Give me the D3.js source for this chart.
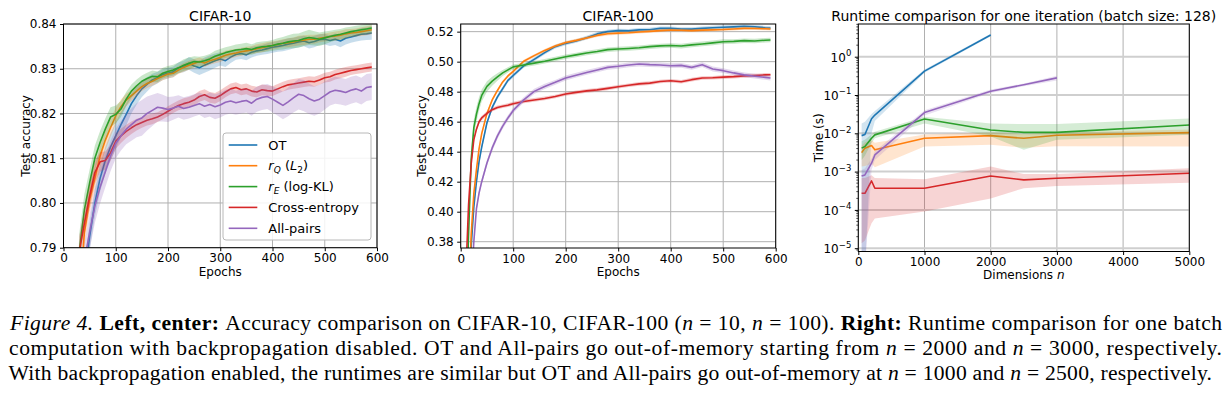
<!DOCTYPE html>
<html><head><meta charset="utf-8">
<script src="https://cdn.jsdelivr.net/npm/d3@7"></script>
<style>
body{margin:0;background:#fff;}
svg{display:block;}
</style></head><body>
<svg id="fig" width="1225" height="398"></svg>
<script>
// ---------------- DATA ----------------
const seriesNames = ["OT", "rQ", "rE", "Cross-entropy", "All-pairs"];
const seriesColors = ["#1f77b4", "#ff7f0e", "#2ca02c", "#d62728", "#9467bd"];

// CIFAR-10 (epochs)
const c10Epochs = [10,20,30,40,50,60,70,80,90,100,110,120,130,140,150,160,170,180,190,200,210,220,230,240,250,260,270,280,290,300,310,320,330,340,350,360,370,380,390,400,410,420,430,440,450,460,470,480,490,500,510,520,530,540,550,560,570,580,590];
const c10OT = [0.65,0.72,0.76,0.783,0.7925,0.800,0.8055,0.8095,0.8125,0.8150,
  0.8175,0.8198,0.8222,0.8240,0.8255,0.8265,0.8275,0.8280,0.8287,0.8290,
  0.8293,0.8302,0.8305,0.8312,0.8306,0.8302,0.8308,0.8313,0.8318,0.8322,
  0.8318,0.8326,0.8332,0.8334,0.8331,0.8337,0.8340,0.8342,0.8345,0.8348,
  0.8350,0.8352,0.8355,0.8357,0.8360,0.8362,0.8358,0.8361,0.8365,0.8366,
  0.8363,0.8366,0.8362,0.8368,0.8371,0.8374,0.8377,0.8378,0.8380];
const c10RQ = [0.66,0.73,0.775,0.7935,0.8007,0.8055,0.8105,0.8140,0.8168,0.8195,
  0.8215,0.8230,0.8240,0.8250,0.8260,0.8267,0.8272,0.8278,0.8283,0.8288,
  0.8290,0.8297,0.8303,0.8308,0.8312,0.8316,0.8313,0.8318,0.8321,0.8325,
  0.8330,0.8333,0.8335,0.8338,0.8340,0.8342,0.8345,0.8347,0.8350,0.8352,
  0.8354,0.8357,0.8358,0.8360,0.8363,0.8364,0.8366,0.8366,0.8368,0.8370,
  0.8372,0.8373,0.8375,0.8378,0.8380,0.8381,0.8383,0.8385,0.8387];
const c10RE = [0.68,0.745,0.789,0.7985,0.8045,0.8100,0.8135,0.8165,0.8192,0.8198,
  0.8210,0.8232,0.8250,0.8262,0.8272,0.8278,0.8283,0.8282,0.8290,0.8294,
  0.8297,0.8302,0.8308,0.8312,0.8316,0.8315,0.8318,0.8322,0.8328,0.8332,
  0.8336,0.8339,0.8342,0.8343,0.8345,0.8343,0.8347,0.8349,0.8350,0.8352,
  0.8355,0.8357,0.8360,0.8362,0.8363,0.8367,0.8370,0.8368,0.8366,0.8369,
  0.8372,0.8375,0.8377,0.8380,0.8383,0.8385,0.8387,0.8389,0.8391];
const c10CE = [0.68,0.74,0.789,0.7955,0.8015,0.8068,0.8092,0.8095,0.8112,0.8138,
  0.8150,0.8160,0.8168,0.8175,0.8180,0.8185,0.8188,0.8192,0.8198,0.8205,
  0.8212,0.8218,0.8222,0.8225,0.8230,0.8238,0.8242,0.8236,0.8234,0.8240,
  0.8248,0.8255,0.8258,0.8253,0.8255,0.8250,0.8248,0.8253,0.8251,0.8250,
  0.8255,0.8260,0.8264,0.8266,0.8268,0.8270,0.8272,0.8271,0.8275,0.8280,
  0.8282,0.8287,0.8290,0.8293,0.8296,0.8298,0.8300,0.8302,0.8304];
const c10AP = [0.62,0.70,0.75,0.787,0.7935,0.7993,0.8035,0.8070,0.8105,0.8133,
  0.8150,0.8165,0.8175,0.8185,0.8190,0.8200,0.8207,0.8214,0.8212,0.8209,
  0.8212,0.8216,0.8211,0.8214,0.8218,0.8222,0.8216,0.8220,0.8215,0.8219,
  0.8225,0.8228,0.8224,0.8227,0.8229,0.8223,0.8232,0.8236,0.8238,0.8232,
  0.8225,0.8218,0.8226,0.8235,0.8243,0.8240,0.8233,0.8228,0.8232,0.8240,
  0.8248,0.8252,0.8250,0.8247,0.8252,0.8255,0.8250,0.8258,0.8260];
// half-widths of the shaded bands
const c10OTs = [0.004,0.004,0.004,0.0035,0.003,0.003,0.003,0.003,0.003,0.003,
  0.0028,0.0025,0.0022,0.002,0.0018,0.0016,0.0014,0.0013,0.0012,0.0012,
  0.0012,0.0012,0.0013,0.0014,0.0015,0.0016,0.0017,0.0017,0.0016,0.0015,
  0.0014,0.0013,0.0012,0.0012,0.0012,0.0012,0.0011,0.0011,0.0012,0.0012,
  0.0012,0.0013,0.0013,0.0012,0.0012,0.0012,0.0013,0.0013,0.0012,0.0012,
  0.0012,0.0013,0.0014,0.0014,0.0013,0.0013,0.0014,0.0014,0.0015];
const c10RQs = [0.004,0.004,0.0035,0.003,0.0028,0.0026,0.0024,0.0022,0.002,0.0018,
  0.0016,0.0014,0.0012,0.0011,0.001,0.001,0.001,0.001,0.0009,0.0009,
  0.0009,0.0009,0.001,0.001,0.001,0.0009,0.0009,0.0009,0.0009,0.001,
  0.001,0.001,0.0009,0.0009,0.0009,0.0009,0.001,0.001,0.001,0.0009,
  0.0009,0.0009,0.001,0.001,0.0011,0.0011,0.001,0.001,0.0009,0.0009,
  0.0009,0.001,0.001,0.001,0.0009,0.0009,0.001,0.001,0.001];
const c10REs = [0.004,0.004,0.004,0.0035,0.003,0.0028,0.0026,0.0024,0.0022,0.002,
  0.0018,0.0016,0.0015,0.0014,0.0013,0.0013,0.0013,0.0012,0.0012,0.0012,
  0.0012,0.0012,0.0013,0.0013,0.0012,0.0012,0.0011,0.0011,0.0012,0.0012,
  0.0012,0.0012,0.0012,0.0013,0.0013,0.0012,0.0012,0.0012,0.0012,0.0012,
  0.0013,0.0014,0.0015,0.0016,0.0016,0.0016,0.0017,0.0016,0.0015,0.0014,
  0.0013,0.0012,0.0012,0.0012,0.0011,0.0011,0.0011,0.0011,0.0011];
const c10CEs = [0.004,0.004,0.0035,0.003,0.0028,0.0025,0.0022,0.002,0.0018,0.0017,
  0.0016,0.0015,0.0014,0.0013,0.0012,0.0012,0.0012,0.0011,0.0011,0.0011,
  0.0011,0.0011,0.0012,0.0012,0.0012,0.0012,0.0012,0.0012,0.0012,0.0012,
  0.0012,0.0012,0.0012,0.0012,0.0012,0.0012,0.0012,0.0012,0.0012,0.0011,
  0.0011,0.0011,0.0011,0.0011,0.0011,0.0011,0.0011,0.0011,0.0011,0.0011,
  0.0011,0.0011,0.0011,0.0011,0.001,0.001,0.001,0.001,0.001];
const c10APs = [0.004,0.004,0.004,0.004,0.004,0.0038,0.0036,0.0035,0.0034,0.0033,
  0.0033,0.0034,0.0036,0.0038,0.004,0.0038,0.0035,0.0032,0.003,0.0028,
  0.0026,0.0025,0.0025,0.0025,0.0025,0.0025,0.0026,0.0027,0.0028,0.0028,
  0.0028,0.0028,0.0027,0.0027,0.0027,0.0028,0.0028,0.0028,0.0028,0.0029,
  0.003,0.0031,0.0032,0.0033,0.0034,0.0035,0.0034,0.0033,0.0032,0.0031,
  0.003,0.003,0.003,0.003,0.003,0.003,0.003,0.003,0.003];

// CIFAR-100 (epochs)
const c100Epochs = [5,10,15,20,25,30,35,40,50,60,70,80,90,100,120,140,160,180,200,220,240,260,280,300,320,340,360,380,400,420,440,460,480,500,520,540,560,580,590];
const c100OT = [0.20,0.27,0.32,0.377,0.403,0.42,0.4335,0.443,
  0.4593,0.4695,0.4765,0.482,0.4875,0.4908,
  0.4972,0.5015,0.5060,0.5100,0.5122,
  0.5138,0.5160,0.5185,0.5200,0.5207,0.5205,0.5212,0.5213,0.5222,0.5222,
  0.5218,0.5217,0.5222,0.5226,0.5229,0.5232,0.5236,0.5233,0.5226,0.5224];
const c100RQ = [0.22,0.28,0.34,0.385,0.412,0.428,0.442,0.452,
  0.4655,0.4745,0.4808,0.4865,0.4905,0.4935,
  0.5003,0.5040,0.5075,0.5105,0.5128,
  0.5142,0.5158,0.5175,0.5186,0.5190,0.5193,0.5198,0.5202,0.5207,0.5211,
  0.5209,0.5207,0.5210,0.5212,0.5214,0.5218,0.5222,0.5221,0.5219,0.5218];
const c100RE = [0.25,0.33,0.385,0.435,0.456,0.465,0.472,0.4775,
  0.4835,0.487,0.4898,0.4925,0.4945,0.4965,
  0.4978,0.4990,0.5003,0.5018,0.5033,
  0.5045,0.5058,0.5068,0.5080,0.5084,0.5088,0.5093,0.5100,0.5105,0.5108,
  0.5104,0.5112,0.5118,0.5125,0.5133,0.5135,0.5140,0.5138,0.5143,0.5144];
const c100CE = [0.30,0.36,0.405,0.432,0.448,0.455,0.46,0.4625,
  0.4655,0.468,0.4695,0.4703,0.471,0.472,
  0.4735,0.4745,0.4755,0.4768,0.4784,
  0.4795,0.4805,0.4812,0.4822,0.4833,0.4843,0.4852,0.4857,0.4868,0.4873,
  0.4866,0.4880,0.4891,0.4893,0.4897,0.4900,0.4905,0.4908,0.4912,0.4913];
const c100AP = [0.15,0.22,0.29,0.35,0.38,0.402,0.4125,0.42,
  0.4325,0.4425,0.4505,0.457,0.4625,0.4675,
  0.4745,0.4802,0.4835,0.4862,0.4891,
  0.4910,0.4928,0.4945,0.4962,0.4969,0.4978,0.4984,0.4980,0.4978,0.4973,
  0.4975,0.4962,0.4980,0.4951,0.4940,0.4925,0.4912,0.4903,0.4895,0.4891];
const c100OTs = [0.002,0.002,0.002,0.002,0.002,0.002,0.002,0.002,
  0.0015,0.0015,0.0015,0.0015,0.0014,0.0014,
  0.0013,0.0013,0.0013,0.0012,0.0012,
  0.0012,0.0013,0.0013,0.0012,0.0012,0.0012,0.0013,0.0013,0.0012,0.0012,
  0.0012,0.0012,0.0012,0.0013,0.0013,0.0012,0.0012,0.0012,0.0012,0.0012];
const c100RQs = [0.002,0.002,0.002,0.002,0.002,0.0018,0.0016,0.0015,
  0.0013,0.0012,0.0011,0.001,0.001,0.001,
  0.001,0.001,0.001,0.001,0.001,
  0.001,0.001,0.0011,0.0011,0.001,0.001,0.001,0.001,0.001,0.001,
  0.001,0.001,0.001,0.001,0.001,0.001,0.001,0.001,0.001,0.001];
const c100REs = [0.004,0.005,0.006,0.006,0.0055,0.005,0.0045,0.004,
  0.0035,0.003,0.0025,0.002,0.0018,0.0016,
  0.0015,0.0015,0.0015,0.0015,0.0015,
  0.0015,0.0015,0.0015,0.0015,0.0015,0.0015,0.0015,0.0015,0.0015,0.0015,
  0.0016,0.0016,0.0016,0.0016,0.0016,0.0015,0.0015,0.0015,0.0015,0.0015];
const c100CEs = [0.002,0.002,0.002,0.002,0.002,0.0018,0.0016,0.0015,
  0.0014,0.0013,0.0012,0.0012,0.0012,0.0012,
  0.0012,0.0012,0.0012,0.0012,0.0012,
  0.0012,0.0012,0.0012,0.0012,0.0012,0.0012,0.0012,0.0012,0.0012,0.0012,
  0.0012,0.0012,0.0012,0.0012,0.0012,0.0012,0.0012,0.0012,0.0012,0.0012];
const c100APs = [0.002,0.002,0.002,0.002,0.002,0.002,0.002,0.002,
  0.002,0.002,0.002,0.0019,0.0018,0.0018,
  0.0017,0.0017,0.0017,0.0016,0.0016,
  0.0016,0.0016,0.0016,0.0016,0.0016,0.0016,0.0016,0.0016,0.0016,0.0016,
  0.0016,0.0016,0.0016,0.0016,0.0016,0.0016,0.0016,0.0016,0.0016,0.0016];

// Runtime (dimension n, seconds)
const rtN = [50, 100, 200, 250, 1000, 2000, 2500, 3000, 5000];
const rtOT   = [0.0087, 0.0093, 0.024, 0.030, 0.42, 3.7];
const rtOThi = [0.018, 0.020, 0.032, 0.038, 0.46, 4.0];
const rtOTlo = [0, 0, 0.010, 0.021, 0.38, 3.4];
const rtRQ   = [0.00313, 0.0041, 0.0048, 0.0037, 0.0074, 0.0087, 0.0074, 0.0089, 0.0104];
const rtRQhi = [0.0048, 0.0058, 0.0066, 0.0057, 0.0093, 0.0105, 0.0095, 0.0105, 0.0125];
const rtRQlo = [0.00135, 0.0014, 0.0016, 0.0013, 0.0045, 0.0050, 0.0042, 0.0046, 0.0045];
const rtRE   = [0.0041, 0.0045, 0.0074, 0.0091, 0.0237, 0.0122, 0.0106, 0.0106, 0.0165];
const rtREhi = [0.0062, 0.0068, 0.0095, 0.011, 0.0272, 0.018, 0.0175, 0.0175, 0.0245];
const rtRElo = [0.0020, 0.0026, 0.0056, 0.0074, 0.018, 0.0082, 0.0037, 0.0068, 0.0092];
const rtCE   = [2.72e-4, 2.72e-4, 5.7e-4, 3.67e-4, 3.67e-4, 7.7e-4, 6.07e-4, 6.7e-4, 9.06e-4];
const rtCEhi = [6.8e-4, 6.8e-4, 8.0e-4, 6.8e-4, 6.3e-4, 1.35e-3, 8.7e-4, 8.7e-4, 1.22e-3];
const rtCElo = [1.35e-5, 1.6e-5, 4.5e-5, 6.0e-5, 9.1e-5, 2.0e-4, 3.7e-4, 4.2e-4, 5.1e-4];
const rtAP   = [7.7e-4, 8.2e-4, 1.66e-3, 2.72e-3, 0.0347, 0.126, 0.185, 0.28];
const rtAPhi = [1.1e-3, 1.2e-3, 2.2e-3, 3.4e-3, 0.040, 0.14, 0.20, 0.32];
const rtAPlo = [0, 0, 1.1e-3, 2.0e-3, 0.029, 0.112, 0.17, 0.24];

// ticks
const epochTicks = [0, 100, 200, 300, 400, 500, 600];
const c10Ticks = [0.79, 0.80, 0.81, 0.82, 0.83, 0.84];
const c100Ticks = [0.38, 0.40, 0.42, 0.44, 0.46, 0.48, 0.50, 0.52];
const rtXTicks = [0, 1000, 2000, 3000, 4000, 5000];
const rtYExp = [-5, -4, -3, -2, -1, 0];

// ---------------- DRAWING ----------------
const svg = d3.select("#fig");
const SANS = '"DejaVu Sans", sans-serif';
const SERIF = '"Liberation Serif", "Times New Roman", serif';
const GRID = "#b0b0b0";

function styleAxis(sel) {
  sel.attr("font-size", 12).attr("font-family", SANS);
  sel.select(".domain").remove();
  sel.selectAll(".tick line").attr("stroke", "#000").attr("stroke-width", 1);
  sel.selectAll(".tick text").attr("fill", "#000");
}

function addClip(box, clipId) {
  svg.append("clipPath").attr("id", clipId).append("rect")
    .attr("x", box.l).attr("y", box.t).attr("width", box.r - box.l).attr("height", box.b - box.t);
}

function accPanel(o) {
  const box = o.box;
  const x = d3.scaleLinear().domain([0, 600]).range([box.l, box.r]);
  const y = d3.scaleLinear().domain(o.yDomain).range([box.b, box.t]);
  const g = svg.append("g");
  addClip(box, o.id);
  // grid
  g.append("g").selectAll("line").data(epochTicks).join("line")
    .attr("x1", d => x(d)).attr("x2", d => x(d)).attr("y1", box.t).attr("y2", box.b)
    .attr("stroke", GRID).attr("stroke-width", 1);
  g.append("g").selectAll("line").data(o.yTicks).join("line")
    .attr("x1", box.l).attr("x2", box.r).attr("y1", d => y(d)).attr("y2", d => y(d))
    .attr("stroke", GRID).attr("stroke-width", 1);
  // data
  const pg = g.append("g").attr("clip-path", `url(#${o.id})`);
  o.series.forEach((vals, k) => {
    const pts = o.epochs.map((e, i) => ({ e, v: vals[i], s: o.spreads[k][i] }));
    pg.append("path")
      .attr("d", d3.area().x(d => x(d.e)).y0(d => y(d.v - d.s)).y1(d => y(d.v + d.s))(pts))
      .attr("fill", seriesColors[k]).attr("fill-opacity", 0.25);
    pg.append("path")
      .attr("d", d3.line().x(d => x(d.e)).y(d => y(d.v))(pts))
      .attr("fill", "none").attr("stroke", seriesColors[k]).attr("stroke-width", 1.6)
      .attr("stroke-linejoin", "round");
  });
  // axes
  const xa = g.append("g").attr("transform", `translate(0,${box.b})`)
    .call(d3.axisBottom(x).tickValues(epochTicks).tickSize(3.5).tickPadding(2.5).tickFormat(d3.format("d")));
  styleAxis(xa);
  const ya = g.append("g").attr("transform", `translate(${box.l},0)`)
    .call(d3.axisLeft(y).tickValues(o.yTicks).tickSize(3.5).tickPadding(3.5).tickFormat(d3.format(".2f")));
  styleAxis(ya);
  // spines
  g.append("rect").attr("x", box.l).attr("y", box.t).attr("width", box.r - box.l).attr("height", box.b - box.t)
    .attr("fill", "none").attr("stroke", "#000").attr("stroke-width", 1);
  // labels
  g.append("text").attr("x", (box.l + box.r) / 2).attr("y", 20.5).attr("text-anchor", "middle")
    .attr("font-family", SANS).attr("font-size", 14).text(o.title);
  g.append("text").attr("x", (box.l + box.r) / 2).attr("y", 275.5).attr("text-anchor", "middle")
    .attr("font-family", SANS).attr("font-size", 12).text("Epochs");
  g.append("text").attr("transform", `translate(${o.ylabX},${(box.t + box.b) / 2}) rotate(-90)`)
    .attr("text-anchor", "middle").attr("font-family", SANS).attr("font-size", 12).text("Test accuracy");
  return { g, x, y };
}

// Left: CIFAR-10
const left = accPanel({
  id: "clipL", box: { l: 63.5, r: 377, t: 24, b: 247.7 },
  yDomain: [0.79, 0.84], yTicks: c10Ticks, title: "CIFAR-10", ylabX: 29.5,
  epochs: c10Epochs,
  series: [c10OT, c10RQ, c10RE, c10CE, c10AP],
  spreads: [c10OTs, c10RQs, c10REs, c10CEs, c10APs]
});

// Legend in left panel
(function () {
  const lg = left.g.append("g");
  lg.append("rect").attr("x", 223).attr("y", 133).attr("width", 148).attr("height", 107)
    .attr("rx", 3).attr("fill", "#fff").attr("fill-opacity", 0.85)
    .attr("stroke", "#b8b8b8").attr("stroke-width", 1);
  const rows = [145, 165.7, 186.6, 207.4, 228.3];
  rows.forEach((ry, k) => {
    lg.append("line").attr("x1", 228.7).attr("x2", 257.3).attr("y1", ry).attr("y2", ry)
      .attr("stroke", seriesColors[k]).attr("stroke-width", 1.6);
    const t = lg.append("text").attr("x", 268.3).attr("y", ry + 4.7)
      .attr("font-family", SANS).attr("font-size", 13);
    if (k === 1) {
      t.append("tspan").attr("font-style", "italic").text("r");
      t.append("tspan").attr("font-style", "italic").attr("font-size", 9).attr("dy", 3).text("Q");
      t.append("tspan").attr("dy", -3).text(" (");
      t.append("tspan").attr("font-style", "italic").text("L");
      t.append("tspan").attr("font-size", 9).attr("dy", 3).text("2");
      t.append("tspan").attr("dy", -3).text(")");
    } else if (k === 2) {
      t.append("tspan").attr("font-style", "italic").text("r");
      t.append("tspan").attr("font-style", "italic").attr("font-size", 9).attr("dy", 3).text("E");
      t.append("tspan").attr("dy", -3).text(" (log-KL)");
    } else {
      t.text(seriesNames[k]);
    }
  });
})();

// Center: CIFAR-100
accPanel({
  id: "clipC", box: { l: 460.7, r: 775.7, t: 24, b: 248 },
  yDomain: [0.3758, 0.5251], yTicks: c100Ticks, title: "CIFAR-100", ylabX: 425.5,
  epochs: c100Epochs,
  series: [c100OT, c100RQ, c100RE, c100CE, c100AP],
  spreads: [c100OTs, c100RQs, c100REs, c100CEs, c100APs]
});

// Right: runtime
(function () {
  const box = { l: 858.3, r: 1189.3, t: 24, b: 251.5 };
  const x = d3.scaleLinear().domain([0, 5000]).range([box.l, box.r]);
  const y = d3.scaleLog().domain([Math.pow(10, -5.086), Math.pow(10, 0.854)]).range([box.b, box.t]);
  const g = svg.append("g");
  addClip(box, "clipR");
  g.append("g").selectAll("line").data(rtXTicks).join("line")
    .attr("x1", d => x(d)).attr("x2", d => x(d)).attr("y1", box.t).attr("y2", box.b)
    .attr("stroke", GRID).attr("stroke-width", 1);
  g.append("g").selectAll("line").data(rtYExp).join("line")
    .attr("x1", box.l).attr("x2", box.r).attr("y1", d => y(Math.pow(10, d))).attr("y2", d => y(Math.pow(10, d)))
    .attr("stroke", "#cfcfcf").attr("stroke-width", 2);

  const runs = [
    [rtOT, rtOThi, rtOTlo], [rtRQ, rtRQhi, rtRQlo], [rtRE, rtREhi, rtRElo],
    [rtCE, rtCEhi, rtCElo], [rtAP, rtAPhi, rtAPlo]
  ];
  const pg = g.append("g").attr("clip-path", "url(#clipR)");
  const yb = v => (v > 0 ? y(v) : box.b + 20);
  runs.forEach(([m, hi, lo], k) => {
    const pts = m.map((v, i) => ({ n: rtN[i], v, hi: hi[i], lo: lo[i] }));
    pg.append("path")
      .attr("d", d3.area().x(d => x(d.n)).y0(d => yb(d.lo)).y1(d => yb(d.hi))(pts))
      .attr("fill", seriesColors[k]).attr("fill-opacity", 0.2);
    pg.append("path")
      .attr("d", d3.line().x(d => x(d.n)).y(d => y(d.v))(pts))
      .attr("fill", "none").attr("stroke", seriesColors[k]).attr("stroke-width", 1.6)
      .attr("stroke-linejoin", "round");
  });

  const xa = g.append("g").attr("transform", `translate(0,${box.b})`)
    .call(d3.axisBottom(x).tickValues(rtXTicks).tickSize(3.5).tickPadding(2.5).tickFormat(d3.format("d")));
  styleAxis(xa);
  const ya = g.append("g").attr("transform", `translate(${box.l},0)`)
    .call(d3.axisLeft(y).tickValues(rtYExp.map(e => Math.pow(10, e))).tickSize(3.5).tickPadding(3.5).tickFormat(""));
  styleAxis(ya);
  ya.selectAll(".tick").each(function (d) {
    const e = Math.round(Math.log10(d));
    const t = d3.select(this).select("text").text(null).attr("dy", null).attr("y", 4.3);
    t.append("tspan").text("10");
    t.append("tspan").attr("font-size", 8.5).attr("dy", -5.5).text(e < 0 ? "\u2212" + (-e) : String(e));
  });
  // minor log ticks
  const minor = [];
  for (let e = -6; e <= 0; e++) for (let m = 2; m <= 9; m++) {
    const v = m * Math.pow(10, e);
    if (v >= y.domain()[0] && v <= y.domain()[1]) minor.push(v);
  }
  g.append("g").selectAll("line").data(minor).join("line")
    .attr("x1", box.l - 2).attr("x2", box.l).attr("y1", d => y(d)).attr("y2", d => y(d))
    .attr("stroke", "#000").attr("stroke-width", 0.7);

  g.append("rect").attr("x", box.l).attr("y", box.t).attr("width", box.r - box.l).attr("height", box.b - box.t)
    .attr("fill", "none").attr("stroke", "#000").attr("stroke-width", 1);

  g.append("text").attr("x", (box.l + box.r) / 2).attr("y", 20.5).attr("text-anchor", "middle")
    .attr("font-family", SANS).attr("font-size", 14).text("Runtime comparison for one iteration (batch size: 128)");
  const xl = g.append("text").attr("x", (box.l + box.r) / 2).attr("y", 278.5).attr("text-anchor", "middle")
    .attr("font-family", SANS).attr("font-size", 12);
  xl.append("tspan").text("Dimensions ");
  xl.append("tspan").attr("font-style", "italic").text("n");
  g.append("text").attr("transform", `translate(822.5,${(box.t + box.b) / 2}) rotate(-90)`)
    .attr("text-anchor", "middle").attr("font-family", SANS).attr("font-size", 12).text("Time (s)");
})();

// ---------------- CAPTION ----------------
const captionLines = [
  [["i", "Figure 4. "], ["b", "Left, center: "], ["r", "Accuracy comparison on CIFAR-10, CIFAR-100 ("], ["m", "n"], ["r", " = 10, "], ["m", "n"], ["r", " = 100). "], ["b", "Right: "], ["r", "Runtime comparison for one batch"]],
  [["r", "computation with backpropagation disabled. OT and All-pairs go out-of-memory starting from "], ["m", "n"], ["r", " = 2000 and "], ["m", "n"], ["r", " = 3000, respectively."]],
  [["r", "With backpropagation enabled, the runtimes are similar but OT and All-pairs go out-of-memory at "], ["m", "n"], ["r", " = 1000 and "], ["m", "n"], ["r", " = 2500, respectively."]]
];
const capY = [330, 355, 380];
const capX = [10, 9, 8.5];
const capLen = [1212, 1213, 1203.5];
captionLines.forEach((parts, li) => {
  const t = svg.append("text").attr("x", capX[li]).attr("y", capY[li])
    .attr("font-family", SERIF).attr("font-size", 21.6).attr("fill", "#000")
    .attr("textLength", capLen[li]).attr("lengthAdjust", "spacing");
  parts.forEach(([s, txt]) => {
    const ts = t.append("tspan").text(txt);
    if (s === "i" || s === "m") ts.attr("font-style", "italic");
    if (s === "b") ts.attr("font-weight", "bold");
  });
});
</script>
</body></html>
